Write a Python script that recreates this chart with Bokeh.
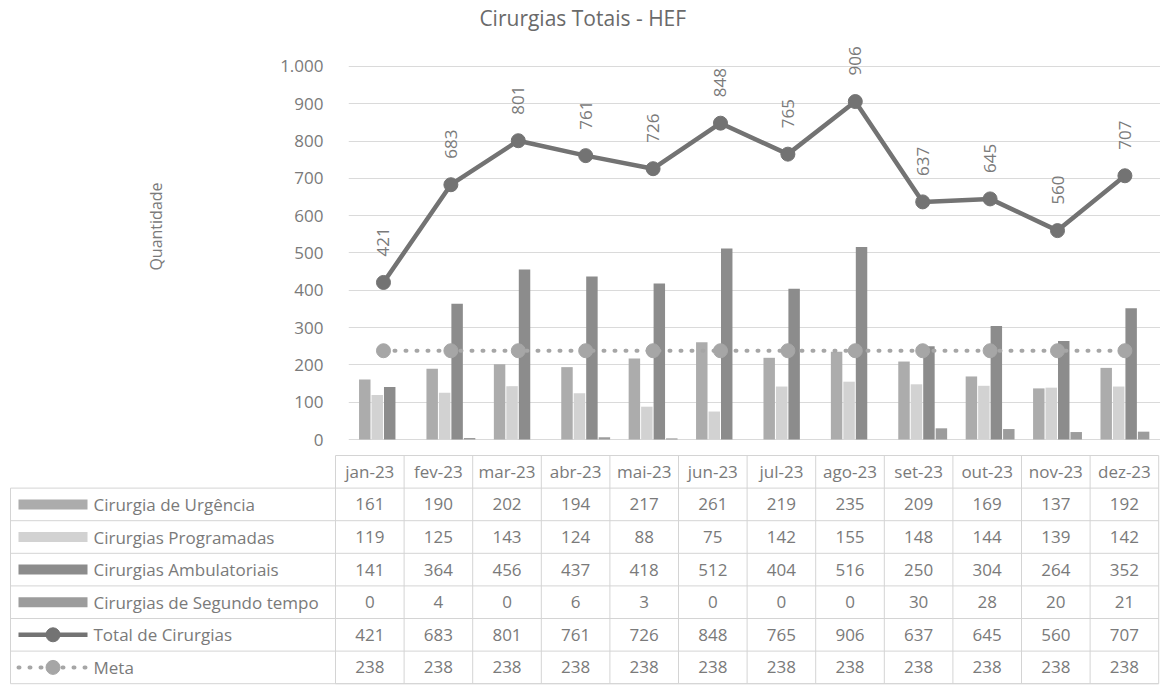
import math
from bokeh.plotting import figure
from bokeh.models import Range1d, FixedTicker, Label
from bokeh.layouts import column
from bokeh.embed import file_html
from bokeh.resources import INLINE
from bokeh.core.properties import value

# ---------------- data ----------------
months = ["jan-23", "fev-23", "mar-23", "abr-23", "mai-23", "jun-23",
          "jul-23", "ago-23", "set-23", "out-23", "nov-23", "dez-23"]
urgencia = [161, 190, 202, 194, 217, 261, 219, 235, 209, 169, 137, 192]
programadas = [119, 125, 143, 124, 88, 75, 142, 155, 148, 144, 139, 142]
ambulatoriais = [141, 364, 456, 437, 418, 512, 404, 516, 250, 304, 264, 352]
segundo_tempo = [0, 4, 0, 6, 3, 0, 0, 0, 30, 28, 20, 21]
total = [421, 683, 801, 761, 726, 848, 765, 906, 637, 645, 560, 707]
meta = [238, 238, 238, 238, 238, 238, 238, 238, 238, 238, 238, 238]
series_names = ["Cirurgia de Urgência", "Cirurgias Programadas",
                "Cirurgias Ambulatoriais", "Cirurgias de Segundo tempo",
                "Total de Cirurgias", "Meta"]
y_ticks = [0, 100, 200, 300, 400, 500, 600, 700, 800, 900, 1000]
y_tick_labels = ["0", "100", "200", "300", "400", "500", "600", "700", "800", "900", "1.000"]
title_text = "Cirurgias Totais  - HEF"
y_title = "Quantidade"

# ---------------- styles ----------------
FONT = "Open Sans"
TXT = "#7a7a7a"
C_URG = "#acacac"
C_PROG = "#d2d2d2"
C_AMB = "#8c8c8c"
C_SEG = "#9c9c9c"
C_TOT = "#737373"
C_META = "#a6a6a6"
GRID = "#dadada"

W = 1160
TOP_H = 452
BOT_H = 234

idx = list(range(len(months)))

# ---------------- chart ----------------
p = figure(width=W, height=TOP_H, output_backend="svg", toolbar_location=None,
           x_range=Range1d(-0.519, 11.528), y_range=Range1d(-34.85, 1176.9),
           x_axis_location=None, min_border_left=348, min_border_right=0,
           min_border_top=0, min_border_bottom=0, frame_align=False)
p.outline_line_color = None
p.background_fill_color = "white"
p.border_fill_color = "white"
p.xgrid.visible = False

ticker = FixedTicker(ticks=y_ticks)
ax = p.yaxis[0]
ax.ticker = ticker
ax.major_label_overrides = {t: l for t, l in zip(y_ticks, y_tick_labels)}
ax.axis_line_color = None
ax.major_tick_line_color = None
ax.minor_tick_line_color = None
ax.major_tick_out = 0
ax.major_tick_in = 0
ax.major_label_standoff = 25
ax.major_label_text_font = FONT
ax.major_label_text_font_size = "17px"
ax.major_label_text_color = TXT
ax.axis_label = y_title
ax.axis_label_standoff = 110
ax.axis_label_text_font = FONT
ax.axis_label_text_font_size = "16px"
ax.axis_label_text_font_style = "normal"
ax.axis_label_text_color = TXT
p.ygrid.ticker = ticker
p.ygrid.grid_line_color = GRID
p.ygrid.grid_line_width = 1

step = 0.185
bw = 0.17
bar_series = [(urgencia, C_URG), (programadas, C_PROG), (ambulatoriais, C_AMB), (segundo_tempo, C_SEG)]
for k, (vals, col) in enumerate(bar_series):
    off = (k - 1.5) * step
    p.vbar(x=[i + off for i in idx], top=vals, bottom=0, width=bw,
           fill_color=col, line_color=None)

p.line(idx, meta, line_color=C_META, line_width=4, line_dash="1 10", line_cap="round")
p.scatter(idx, meta, size=14, fill_color=C_META, line_color=C_META)

p.line(idx, total, line_color=C_TOT, line_width=4.5)
p.scatter(idx, total, size=14, fill_color=C_TOT, line_color=C_TOT)

p.text(x=idx, y=total, text=[str(v) for v in total], angle=math.pi / 2,
       text_align="left", text_baseline="middle", y_offset=-26,
       text_font=value(FONT), text_font_size="17px", text_color=TXT)

p.add_layout(Label(x=2.997, y=1128.7, text=title_text, text_align="center",
                   text_baseline="middle", text_font=FONT, text_font_size="21px",
                   text_color="#6a6a6a"))

# ---------------- data table ----------------
CW = 68.6
LEFT_PX = 335
RH = 32.6
TOP_PX = 3
t = figure(width=W, height=BOT_H, output_backend="svg", toolbar_location=None,
           x_range=Range1d(-LEFT_PX / CW, (W - LEFT_PX) / CW),
           y_range=Range1d((BOT_H - TOP_PX) / RH, -TOP_PX / RH),
           x_axis_location=None, y_axis_location=None, min_border=0,
           frame_align=False)
t.outline_line_color = None
t.grid.visible = False

ncol = len(months)
nrow = len(series_names)
left_edge = (10 - LEFT_PX) / CW
BORDER = "#d4d4d4"

# horizontal borders
hx0 = [0.0] + [left_edge] * nrow
hx1 = [float(ncol)] * (nrow + 1)
hy = list(range(nrow + 1))
t.segment(x0=hx0, y0=hy, x1=hx1, y1=hy, line_color=BORDER, line_width=1)
# vertical borders
vx = list(range(ncol + 1)) + [left_edge]
vy0 = [0] * (ncol + 1) + [1]
vy1 = [nrow + 1] * (ncol + 2)
t.segment(x0=vx, y0=vy0, x1=vx, y1=vy1, line_color=BORDER, line_width=1)
t.segment(x0=hx0[:1], y0=[nrow + 1], x1=hx1[:1], y1=[nrow + 1], line_color=BORDER, line_width=1)
t.segment(x0=[left_edge], y0=[nrow + 1], x1=[float(ncol)], y1=[nrow + 1], line_color=BORDER, line_width=1)

# header
t.text(x=[i + 0.5 for i in idx], y=[0.5] * ncol, text=months,
       text_align="center", text_baseline="middle",
       text_font=value(FONT), text_font_size="17px", text_color=TXT)

all_series = [urgencia, programadas, ambulatoriais, segundo_tempo, total, meta]
for r, vals in enumerate(all_series):
    t.text(x=[i + 0.5 for i in idx], y=[r + 1.5] * ncol, text=[str(v) for v in vals],
           text_align="center", text_baseline="middle",
           text_font=value(FONT), text_font_size="17px", text_color=TXT)

# legend names
t.text(x=[(93 - LEFT_PX) / CW] * nrow, y=[r + 1.5 for r in range(nrow)], text=series_names,
       text_align="left", text_baseline="middle",
       text_font=value(FONT), text_font_size="17px", text_color=TXT)

# legend keys
kx = (52.5 - LEFT_PX) / CW
kx0 = (18 - LEFT_PX) / CW
kx1 = (87 - LEFT_PX) / CW
for r, col in enumerate([C_URG, C_PROG, C_AMB, C_SEG]):
    t.rect(x=[kx], y=[r + 1.5], width=69, height=10, width_units="screen",
           height_units="screen", fill_color=col, line_color=None)
t.segment(x0=[kx0], y0=[5.5], x1=[kx1], y1=[5.5], line_color=C_TOT, line_width=4.5)
t.scatter(x=[kx], y=[5.5], size=14, fill_color=C_TOT, line_color=C_TOT)
t.segment(x0=[kx0], y0=[6.5], x1=[kx1], y1=[6.5], line_color=C_META, line_width=4,
          line_dash="1 10", line_cap="round")
t.scatter(x=[kx], y=[6.5], size=14, fill_color=C_META, line_color=C_META)

layout = column(p, t, spacing=0)
open("out.html", "w").write(file_html(layout, INLINE))
